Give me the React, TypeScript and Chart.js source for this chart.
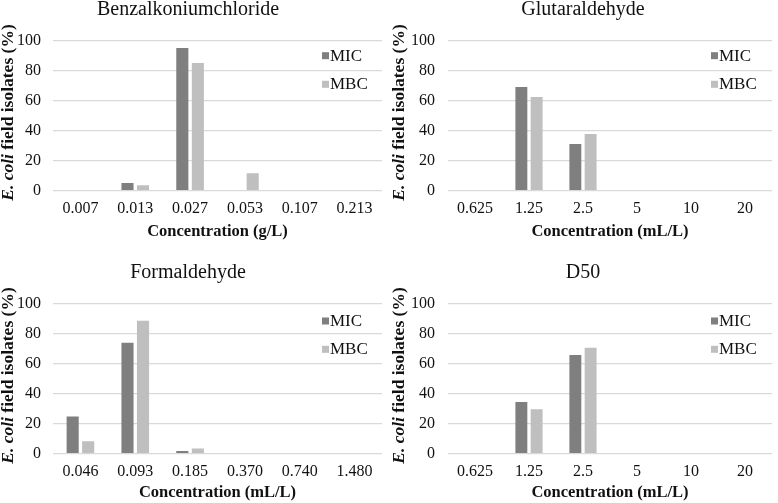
import React, { useEffect, useRef } from 'react';
import { Chart, registerables } from 'chart.js';

Chart.register(...registerables);

const seriesNames = ['MIC', 'MBC'];
const seriesColors = ['#7f7f7f', '#bfbfbf'];
const yTickValues = [0, 20, 40, 60, 80, 100];

const benzCategories = ['0.007', '0.013', '0.027', '0.053', '0.107', '0.213'];
const benzMIC = [0, 5, 95, 0, 0, 0];
const benzMBC = [0, 3.5, 85, 11.5, 0, 0];

const gluCategories = ['0.625', '1.25', '2.5', '5', '10', '20'];
const gluMIC = [0, 69, 31, 0, 0, 0];
const gluMBC = [0, 62.3, 37.7, 0, 0, 0];

const formCategories = ['0.046', '0.093', '0.185', '0.370', '0.740', '1.480'];
const formMIC = [24.6, 73.8, 1.6, 0, 0, 0];
const formMBC = [8.2, 88.5, 3.3, 0, 0, 0];

const d50Categories = ['0.625', '1.25', '2.5', '5', '10', '20'];
const d50MIC = [0, 34.4, 65.6, 0, 0, 0];
const d50MBC = [0, 29.5, 70.5, 0, 0, 0];

const FONT = '"Liberation Serif", "Times New Roman", serif';

type PanelProps = {
  title: string;
  categories: string[];
  mic: number[];
  mbc: number[];
  xTitle: string;
  left: number;
  top: number;
  titleX: number;
  yTitleX: number;
  axisWidth: number;
  tickPad: number;
  padRight: number;
  legendY: number[];
  xTitleBottom: number;
};

function Panel(p: PanelProps) {
  const ref = useRef<HTMLCanvasElement | null>(null);
  useEffect(() => {
    if (!ref.current) return;
    const decor = {
      id: 'decor',
      afterDraw(chart: any) {
        const ctx = chart.ctx as CanvasRenderingContext2D;
        ctx.save();
        // title
        ctx.fillStyle = '#111';
        ctx.font = `20px ${FONT}`;
        ctx.textAlign = 'center';
        ctx.textBaseline = 'alphabetic';
        ctx.fillText(p.title, p.titleX, 14.5);
        // y title (mixed style)
        const part1 = 'E. coli';
        const part2 = ' field isolates (%)';
        const f1 = `italic bold 17.5px ${FONT}`;
        const f2 = `bold 17.5px ${FONT}`;
        ctx.font = f1;
        const w1 = ctx.measureText(part1).width;
        ctx.font = f2;
        const w2 = ctx.measureText(part2).width;
        const cy = (chart.chartArea.top + chart.chartArea.bottom) / 2 - 3;
        ctx.translate(p.yTitleX, cy);
        ctx.rotate(-Math.PI / 2);
        ctx.textAlign = 'left';
        ctx.textBaseline = 'middle';
        const sx = -(w1 + w2) / 2;
        ctx.font = f1;
        ctx.fillText(part1, sx, 0);
        ctx.font = f2;
        ctx.fillText(part2, sx + w1, 0);
        ctx.restore();
        // legend
        ctx.save();
        ctx.font = `17px ${FONT}`;
        ctx.textBaseline = 'middle';
        ctx.textAlign = 'left';
        chart.data.datasets.forEach((ds: any, i: number) => {
          const y = p.legendY[i];
          ctx.fillStyle = ds.backgroundColor;
          ctx.fillRect(322, y - 3.5, 7, 7);
          ctx.fillStyle = '#111';
          ctx.fillText(ds.label, 330, y + 0.5);
        });
        ctx.restore();
      },
    };
    const chart = new Chart(ref.current, {
      type: 'bar',
      data: {
        labels: p.categories,
        datasets: [
          { label: seriesNames[0], data: p.mic, backgroundColor: seriesColors[0] },
          { label: seriesNames[1], data: p.mbc, backgroundColor: seriesColors[1] },
        ],
      },
      options: {
        responsive: false,
        animation: false,
        devicePixelRatio: 1,
        layout: { padding: { left: 0, right: p.padRight, top: 40.5, bottom: 0 } },
        datasets: { bar: { categoryPercentage: 0.566, barPercentage: 0.78 } },
        plugins: {
          legend: { display: false },
          title: { display: false },
          tooltip: { enabled: false },
        },
        scales: {
          x: {
            grid: { display: false, drawTicks: false },
            border: { display: false },
            ticks: { padding: 9, color: '#111', font: { family: FONT, size: 16 }, maxRotation: 0, autoSkip: false },
            title: {
              display: true,
              text: p.xTitle,
              color: '#111',
              font: { family: FONT, size: 16.5, weight: 'bold' },
              padding: { top: 0, bottom: p.xTitleBottom },
            },
            afterFit: (s: any) => {
              s.height = 49.5;
            },
          },
          y: {
            min: 0,
            max: 100,
            afterBuildTicks: (s: any) => {
              s.ticks = yTickValues.map((v) => ({ value: v }));
            },
            grid: { color: '#d9d9d9', lineWidth: 1.2, drawTicks: false },
            border: { display: false },
            ticks: { padding: p.tickPad, color: '#111', font: { family: FONT, size: 16 } },
            afterFit: (s: any) => {
              s.width = p.axisWidth;
            },
          },
        },
      },
      plugins: [decor],
    });
    return () => chart.destroy();
  }, []);
  return (
    <canvas
      ref={ref}
      width={389}
      height={240}
      style={{ position: 'absolute', left: p.left, top: p.top, width: 389, height: 240 }}
    />
  );
}

export default function App() {
  return (
    <div style={{ position: 'absolute', left: 0, top: 0, width: 778, height: 503, background: '#fff' }}>
      <Panel
        title="Benzalkoniumchloride"
        categories={benzCategories}
        mic={benzMIC}
        mbc={benzMBC}
        xTitle="Concentration (g/L)"
        left={0}
        top={0}
        titleX={188}
        yTitleX={8}
        axisWidth={53}
        tickPad={12}
        padRight={7}
        legendY={[55.7, 84.3]}
        xTitleBottom={-1.5}
      />
      <Panel
        title="Glutaraldehyde"
        categories={gluCategories}
        mic={gluMIC}
        mbc={gluMBC}
        xTitle="Concentration (mL/L)"
        left={389}
        top={0}
        titleX={194}
        yTitleX={10.5}
        axisWidth={59}
        tickPad={13}
        padRight={6}
        legendY={[55.7, 84.3]}
        xTitleBottom={-1.5}
      />
      <Panel
        title="Formaldehyde"
        categories={formCategories}
        mic={formMIC}
        mbc={formMBC}
        xTitle="Concentration (mL/L)"
        left={0}
        top={263}
        titleX={188}
        yTitleX={8}
        axisWidth={53}
        tickPad={12}
        padRight={7}
        legendY={[58, 86.3]}
        xTitleBottom={0}
      />
      <Panel
        title="D50"
        categories={d50Categories}
        mic={d50MIC}
        mbc={d50MBC}
        xTitle="Concentration (mL/L)"
        left={389}
        top={263}
        titleX={194}
        yTitleX={10.5}
        axisWidth={59}
        tickPad={13}
        padRight={6}
        legendY={[58, 86.3]}
        xTitleBottom={0}
      />
    </div>
  );
}
